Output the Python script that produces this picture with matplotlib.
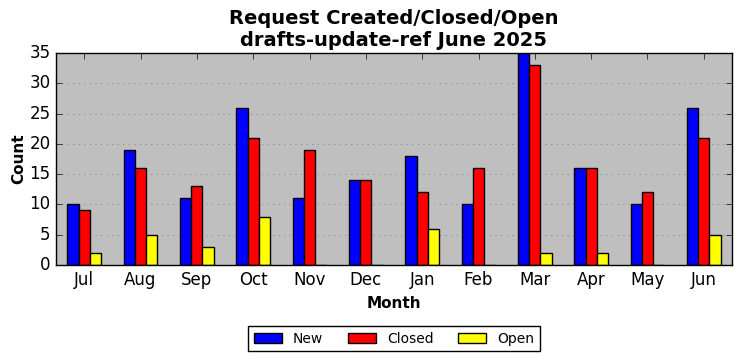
import numpy as np
import matplotlib
matplotlib.use("Agg")
import matplotlib.pyplot as plt

plt.style.use("classic")

# DATA
months = ["Jul", "Aug", "Sep", "Oct", "Nov", "Dec",
          "Jan", "Feb", "Mar", "Apr", "May", "Jun"]
new_counts = [10, 19, 11, 26, 11, 14, 18, 10, 35, 16, 10, 26]
closed_counts = [9, 16, 13, 21, 19, 14, 12, 16, 33, 16, 12, 21]
open_counts = [2, 5, 3, 8, 0, 0, 6, 0, 2, 2, 0, 5]

x = np.arange(len(months))
width = 0.2

fig = plt.figure(figsize=(7.42, 3.61), dpi=100)
fig.patch.set_facecolor("white")
ax = fig.add_axes([56 / 742, 1 - 265 / 361, 676 / 742, 212 / 361])
ax.set_facecolor("#bfbfbf")

ax.bar(x - width, new_counts, width, color="blue", edgecolor="black",
       label="New", align="center")
ax.bar(x, closed_counts, width, color="red", edgecolor="black",
       label="Closed", align="center")
ax.bar(x + width, open_counts, width, color="yellow", edgecolor="black",
       label="Open", align="center")

ax.set_xlim(-0.5, len(months) - 0.5)
ax.set_ylim(0, 35)
ax.set_xticks(x)
ax.set_xticklabels(months, fontsize=12)
ax.set_yticks(range(0, 36, 5))
ax.tick_params(axis="y", labelsize=12)
ax.yaxis.grid(True, linestyle=":", color="#808080")
ax.xaxis.grid(False)
ax.set_axisbelow(True)

ax.set_xlabel("Month", fontsize=11, fontweight="bold")
ax.set_ylabel("Count", fontsize=11, fontweight="bold", labelpad=2)
ax.set_title("Request Created/Closed/Open\ndrafts-update-ref June 2025",
             fontsize=14, fontweight="bold")

ax.legend(loc="upper center", bbox_to_anchor=(0.5, -0.255), ncol=3,
          fontsize=10, frameon=True, fancybox=False, columnspacing=1.8)

fig.savefig("out.png", dpi=100)
